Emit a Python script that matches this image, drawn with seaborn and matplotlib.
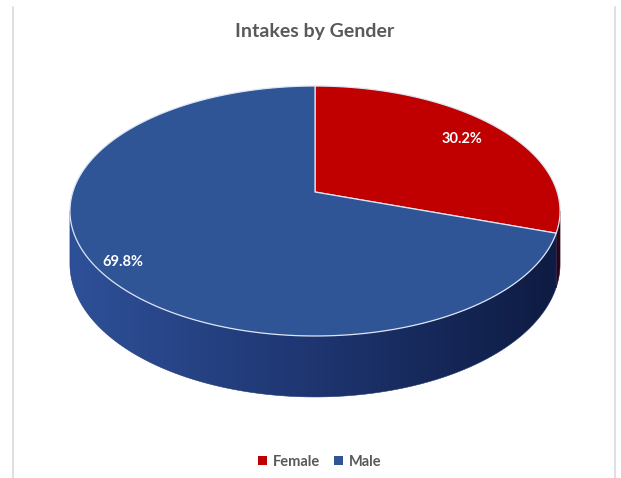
import numpy as np
import matplotlib
matplotlib.use("Agg")
import matplotlib.pyplot as plt
import seaborn as sns
from matplotlib.patches import Patch, Polygon

# ---- data ----
categories = ["Female", "Male"]
values = [30.2, 69.8]
labels = ["30.2%", "69.8%"]
title = "Intakes by Gender"

# ---- style ----
sns.set_theme(style="white")
plt.rcParams["font.family"] = ["Lato", "DejaVu Sans"]

top_colors = ["#C00000", "#2F5597"]
side_left = [np.array([150, 10, 10]) / 255, np.array([46, 80, 152]) / 255]
side_mid = [np.array([110, 0, 0]) / 255, np.array([30, 53, 112]) / 255]
side_right = [np.array([45, 5, 20]) / 255, np.array([14, 27, 66]) / 255]
label_dist = [0.80, 0.90]

W, Hpx = 621, 478
fig = plt.figure(figsize=(W / 100, Hpx / 100), dpi=100)
ax = fig.add_axes([0, 0, 1, 1])
ax.set_xlim(0, W)
ax.set_ylim(Hpx, 0)
ax.axis("off")

# perspective projection of a unit disc (image pixel coords)
cx, cy = 315.0, 192.0
k, R, H, D = 0.152, 242.2, 122.1, 51.7


def proj(t, r=1.0, depth=0.0):
    u = r * np.sin(t)
    v = r * np.cos(t)
    w = 1 + k * v
    return cx + R * u / w, cy - H * v / w + depth * D / w


fr = np.array(values) / np.sum(values)
edges = np.concatenate([[0], np.cumsum(fr)]) * 2 * np.pi

# visible front range of the side wall
t_r = np.arccos(-k)
t_l = 2 * np.pi - t_r

for i in range(len(values)):
    a = max(edges[i], t_r)
    b = min(edges[i + 1], t_l)
    if b <= a:
        continue
    ts = np.linspace(a, b, 400)
    xt, yt = proj(ts)
    xb, yb = proj(ts, depth=1)
    pts = list(zip(xt, yt)) + list(zip(xb[::-1], yb[::-1]))
    poly = Polygon(pts, closed=True, facecolor="none", edgecolor="none",
                   transform=ax.transData)
    ax.add_patch(poly)
    xs = np.linspace(0, W, 622)
    s = np.clip((xs - cx) / R, -1, 1)
    cols = np.where(s[:, None] < 0,
                    side_mid[i] + (side_left[i] - side_mid[i]) * (-s[:, None]),
                    side_mid[i] + (side_right[i] - side_mid[i]) * s[:, None])
    img = np.repeat(cols[None, :, :], 2, axis=0)
    im = ax.imshow(img, extent=(0, W, Hpx, 0), aspect="auto",
                   interpolation="bilinear", zorder=1)
    im.set_clip_path(poly)
    ax.add_patch(Polygon(pts, closed=True, facecolor="none",
                         edgecolor=cols[int(np.mean(xt))], lw=0.4, zorder=1))

ax.set_xlim(0, W)
ax.set_ylim(Hpx, 0)

# top face
for i in range(len(values)):
    ts = np.linspace(edges[i], edges[i + 1], 300)
    xs_, ys_ = proj(ts)
    x0, y0 = proj(0.0, r=0.0)
    pts = [(x0, y0)] + list(zip(xs_, ys_))
    ax.add_patch(Polygon(pts, closed=True, facecolor=top_colors[i],
                         edgecolor="#dce6f5", lw=0.9, joinstyle="round", zorder=2))

# labels
for i in range(len(values)):
    m = 0.5 * (edges[i] + edges[i + 1])
    lx, ly = proj(m, r=label_dist[i])
    ax.text(lx, ly, labels[i], color="white", fontsize=10.5, fontweight="bold",
            ha="center", va="center", zorder=3)

# title
ax.text(315, 31, title, color="#595959", fontsize=14, fontweight="bold",
        ha="center", va="center")

# chart border (light gray)
ax.plot([13, 13], [7, Hpx], color="#d9d9d9", lw=1.2)
ax.plot([615, 615], [7, Hpx], color="#d9d9d9", lw=1.2)

handles = [Patch(facecolor=top_colors[i], edgecolor="none", label=categories[i])
           for i in range(len(values))]
leg = ax.legend(handles=handles, loc="center", bbox_to_anchor=(0.515, 1 - 462 / Hpx),
                ncol=2, frameon=False, handlelength=0.6, handleheight=0.6,
                handletextpad=0.4, columnspacing=1.0, fontsize=10.5)
for t in leg.get_texts():
    t.set_color("#595959")
    t.set_fontweight("bold")

fig.savefig("out.png", dpi=100, facecolor="white")
